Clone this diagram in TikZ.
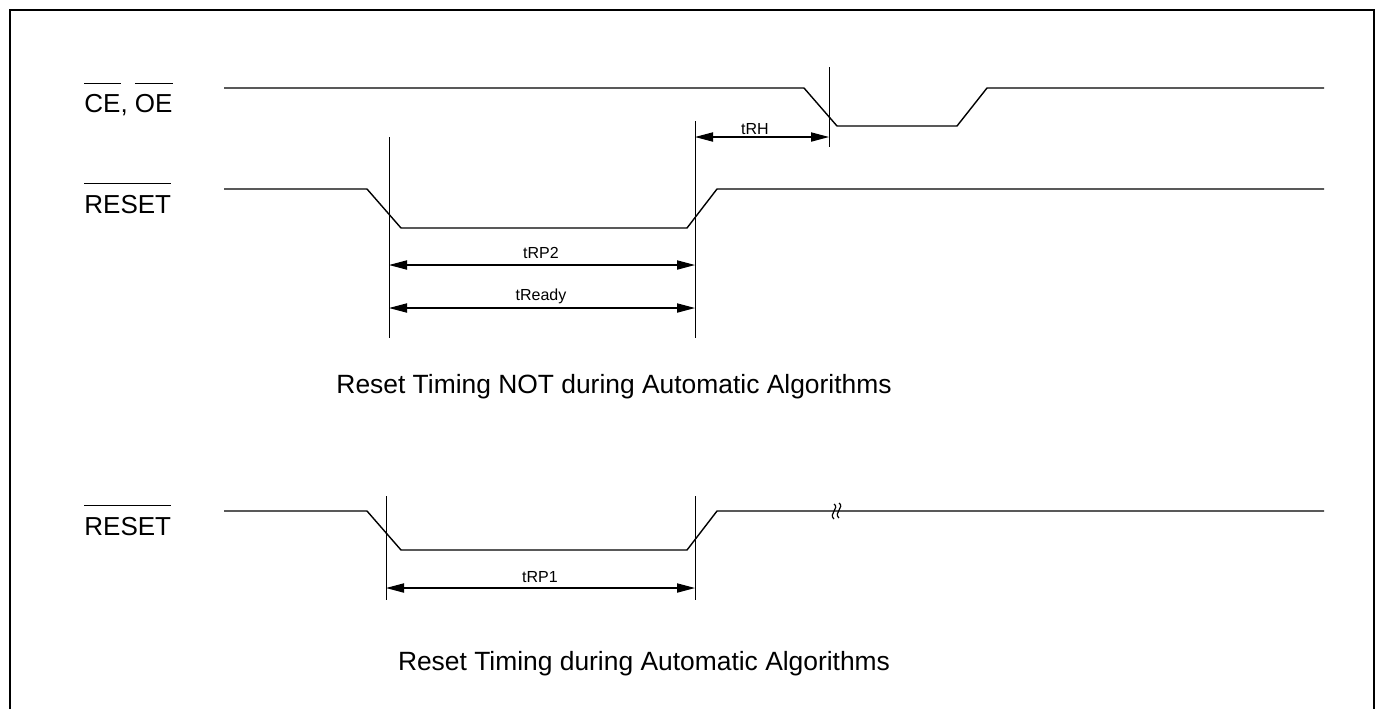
\documentclass[tikz,border=0pt]{standalone}
\usepackage{fontspec}
\setmainfont{Liberation Sans}
\usetikzlibrary{arrows.meta}
\newlength\ovlw
\newcommand\ovl[2][14.5pt]{\settowidth{\ovlw}{#2}\rlap{\rule[#1]{\ovlw}{0.6pt}}#2}
\begin{document}
\begin{tikzpicture}[x=0.5pt,y=-0.5pt,
  frame/.style={line width=1pt},
  wave/.style={line width=0.7pt, line join=miter},
  guide/.style={line width=0.5pt},
  dim/.style={line width=0.6pt,{Triangle[length=9pt,width=4.6pt]}-{Triangle[length=9pt,width=4.6pt]}},
  sig/.style={font=\fontsize{13}{15}\selectfont, anchor=base west, inner sep=0pt},
  lbl/.style={font=\fontsize{8}{10}\selectfont, anchor=base, inner sep=0pt},
  captext/.style={font=\fontsize{13.2}{15}\selectfont, anchor=base, inner sep=0pt},
  brk/.style={line width=0.6pt}]
\useasboundingbox (0,0) rectangle (1381,709);
% frame
\draw[frame] (10,709) -- (10,10) -- (1374,10) -- (1374,709);

% signal names
\node[sig] (ceoe) at (84,112) {\ovl[14pt]{CE}, \ovl[14pt]{OE}};
\node[sig] (rst1) at (84,213) {\ovl{RESET}};
\node[sig] (rst2) at (84,535) {\ovl{RESET}};

% waveforms
\draw[wave] (224,88) -- (804,88) -- (837,126) -- (957,126) -- (987,88) -- (1324,88);
\draw[wave] (224,189) -- (367,189) -- (401,228) -- (687,228) -- (717,189) -- (1324,189);
\draw[wave] (224,511) -- (367,511) -- (401,550) -- (687,550) -- (717,511) -- (1324,511);

% break mark
\draw[brk] (834,504) .. controls (840,508) and (828,514) .. (834,519);
\draw[brk] (839,503) .. controls (845,507) and (833,513) .. (839,518);

% guide lines
\coordinate (g1t) at (389,137); \coordinate (g1b) at (389,338);
\coordinate (g2t) at (695,121); \coordinate (g2b) at (695,338);
\coordinate (g3t) at (829,67);  \coordinate (g3b) at (829,147);
\coordinate (g4t) at (386,496); \coordinate (g4b) at (386,600);
\coordinate (g5t) at (695,496); \coordinate (g5b) at (695,600);
\draw[guide] (g1t) -- (g1b);
\draw[guide] (g2t) -- (g2b);
\draw[guide] (g3t) -- (g3b);
\draw[guide] (g4t) -- (g4b);
\draw[guide] (g5t) -- (g5b);

% dimension arrows
\coordinate (rhL) at (695,137); \coordinate (rhR) at (829,137);
\coordinate (rp2L) at (389,265); \coordinate (rp2R) at (695,265);
\coordinate (rdL) at (389,308); \coordinate (rdR) at (695,308);
\coordinate (rp1L) at (386,588); \coordinate (rp1R) at (695,588);
\draw[dim] (rhL) -- (rhR);
\draw[dim] (rp2L) -- (rp2R);
\draw[dim] (rdL) -- (rdR);
\draw[dim] (rp1L) -- (rp1R);

\node[lbl] (trh) at (755,134) {tRH};
\node[lbl] (trp2) at (541,258) {tRP2};
\node[lbl] (trdy) at (541,300) {tReady};
\node[lbl] (trp1) at (540,582) {tRP1};

% captions
\node[captext] (cap1) at (614,393) {Reset Timing NOT during Automatic Algorithms};
\node[captext] (cap2) at (644,670) {Reset Timing during Automatic Algorithms};
\end{tikzpicture}
\end{document}
